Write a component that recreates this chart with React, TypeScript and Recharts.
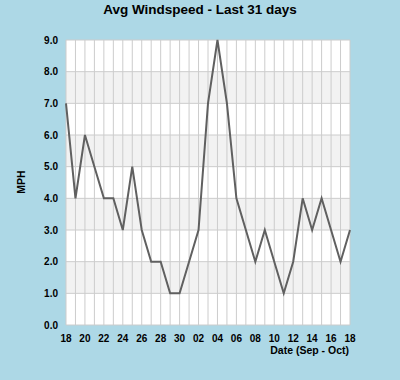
import React from 'react';
import { LineChart, Line, XAxis, YAxis, CartesianGrid } from 'recharts';

// one entry per day, Sep 18 .. Oct 18
const days = [
  '18', '19', '20', '21', '22', '23', '24', '25', '26', '27', '28', '29', '30',
  '01', '02', '03', '04', '05', '06', '07', '08', '09', '10', '11', '12', '13',
  '14', '15', '16', '17', '18',
];
const windspeed = [
  7, 4, 6, 5, 4, 4, 3, 5, 3, 2, 2, 1, 1,
  2, 3, 7, 9, 7, 4, 3, 2, 3, 2, 1, 2, 4,
  3, 4, 3, 2, 3,
];
const yTicks = [0, 1, 2, 3, 4, 5, 6, 7, 8, 9];

const data = days.map((d, i) => ({ idx: i, day: d, mph: windspeed[i] }));
const xTicks = days.map((_, i) => i);

const font = '"Liberation Sans", Arial, sans-serif';
const tickStyle = { fontSize: 10, fontWeight: 'bold', fill: '#000', fontFamily: font };

const App: React.FC = () => {
  return (
    <div
      style={{
        position: 'absolute',
        left: 0,
        top: 0,
        width: 400,
        height: 380,
        background: '#add8e6',
        fontFamily: font,
      }}
    >
      <div
        style={{
          position: 'absolute',
          top: 2,
          left: 0,
          width: 400,
          textAlign: 'center',
          fontSize: 13.5,
          fontWeight: 'bold',
          color: '#000',
        }}
      >
        Avg Windspeed - Last 31 days
      </div>
      <LineChart
        width={400}
        height={380}
        data={data}
        margin={{ top: 40, right: 50, left: 0, bottom: 0 }}
      >
        <CartesianGrid
          stroke="#cccccc"
          horizontalFill={['#ffffff', '#f2f2f2']}
          fillOpacity={1}
        />
        <XAxis
          dataKey="idx"
          type="number"
          domain={[0, 30]}
          ticks={xTicks}
          interval={0}
          height={55}
          axisLine={false}
          tickLine={false}
          tickMargin={4}
          tick={tickStyle}
          tickFormatter={(i: number) => (i % 2 === 0 ? days[i] : '')}
        />
        <YAxis
          type="number"
          domain={[0, 9]}
          ticks={yTicks}
          width={66}
          axisLine={false}
          tickLine={false}
          tick={tickStyle}
          tickFormatter={(v: number) => v.toFixed(1)}
        />
        <Line
          type="linear"
          dataKey="mph"
          stroke="#606060"
          strokeWidth={2}
          dot={false}
          isAnimationActive={false}
        />
      </LineChart>
      <div
        style={{
          position: 'absolute',
          left: 21,
          top: 182,
          transform: 'translate(-50%, -50%) rotate(-90deg)',
          fontSize: 10.5,
          fontWeight: 'bold',
          color: '#000',
        }}
      >
        MPH
      </div>
      <div
        style={{
          position: 'absolute',
          right: 51,
          top: 344,
          fontSize: 10.5,
          fontWeight: 'bold',
          color: '#000',
        }}
      >
        Date (Sep - Oct)
      </div>
    </div>
  );
};

export default App;
